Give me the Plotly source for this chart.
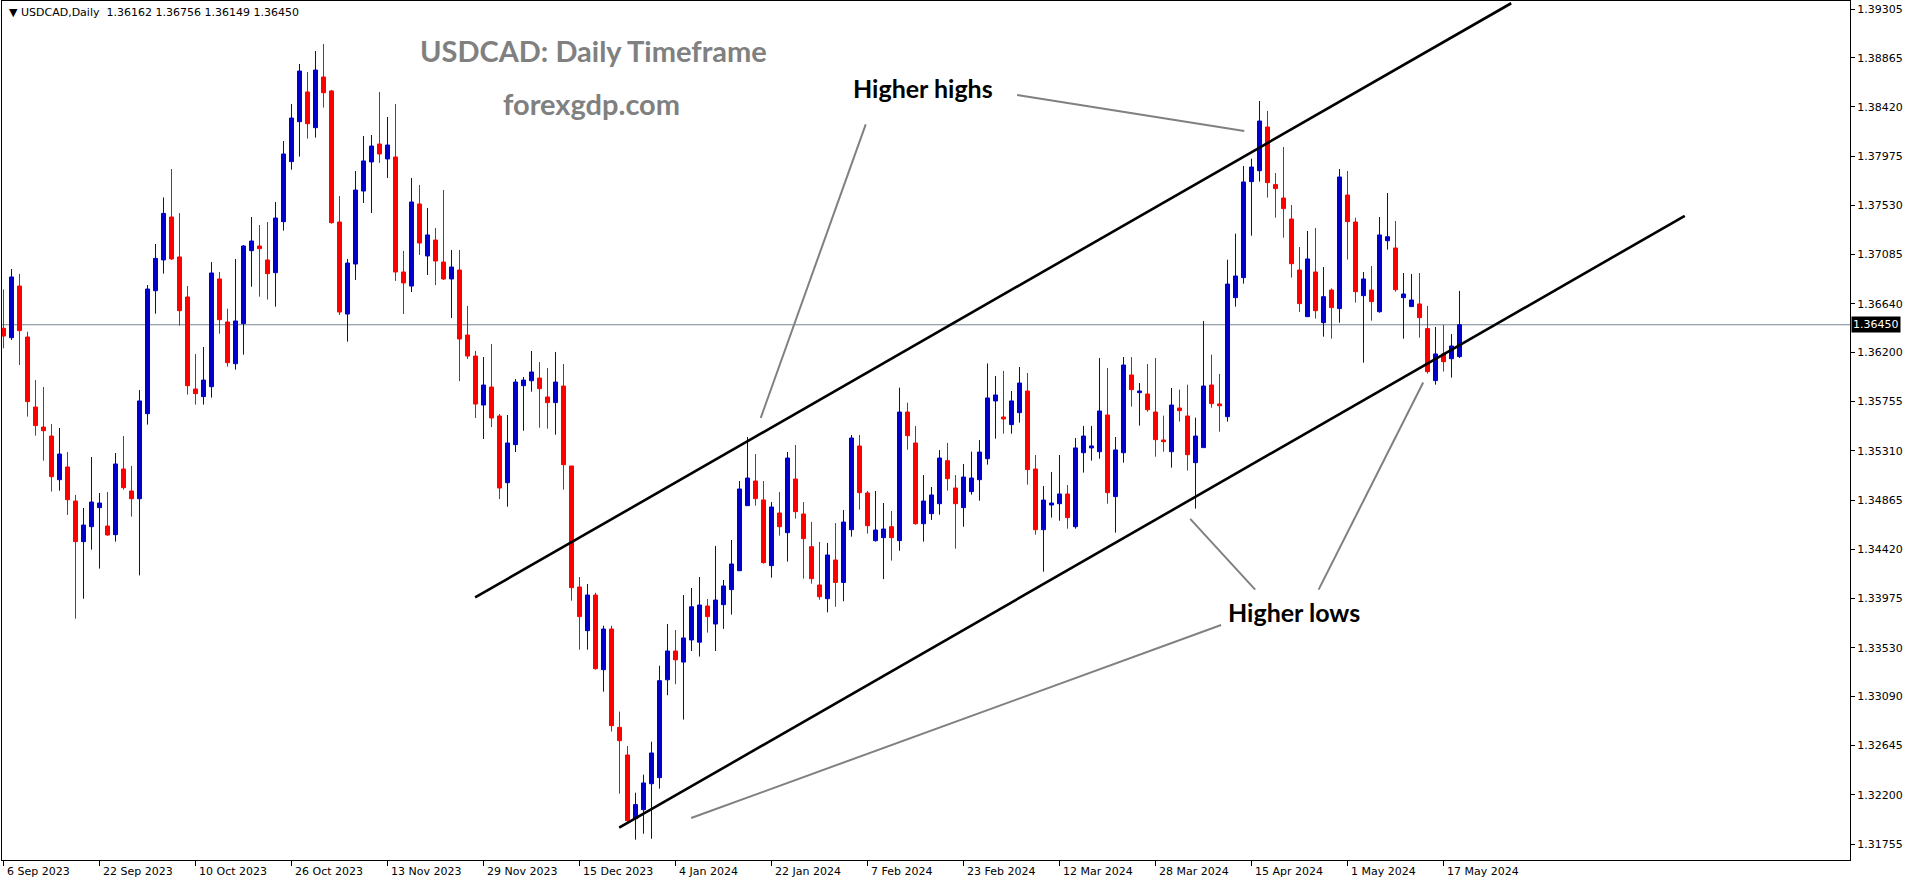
import plotly.graph_objects as go

# ---------------- data ----------------
bar_index = list(range(183))

open_ = [
    1.36418, 1.36333, 1.36800, 1.36339, 1.35706, 1.35525, 1.35444, 1.35049, 1.35164, 1.34856,
    1.34489, 1.34624, 1.34796, 1.34630, 1.34552, 1.35146, 1.34947, 1.34877, 1.35646, 1.36758,
    1.37036, 1.37424, 1.37063, 1.36701, 1.35869, 1.35800, 1.35890, 1.36864, 1.36475, 1.36098,
    1.36460, 1.37120, 1.37162, 1.37036, 1.36921, 1.37382, 1.37925, 1.38286, 1.38555, 1.38232,
    1.38690, 1.38564, 1.37379, 1.36547, 1.36999, 1.37659, 1.37922, 1.38084, 1.37949, 1.37967,
    1.36927, 1.36800, 1.37542, 1.37072, 1.37216, 1.37017, 1.36864, 1.36945, 1.36357, 1.36167,
    1.35724, 1.35887, 1.35625, 1.35022, 1.35366, 1.35899, 1.35944, 1.35968, 1.35797, 1.35746,
    1.35896, 1.35173, 1.34079, 1.33684, 1.34006, 1.33331, 1.33699, 1.32810, 1.32560, 1.31984,
    1.32065, 1.32300, 1.32355, 1.33240, 1.33500, 1.33400, 1.33600, 1.33580, 1.33907, 1.33744,
    1.33919, 1.34055, 1.34226, 1.34814, 1.35037, 1.34866, 1.34272, 1.34748, 1.34570, 1.35055,
    1.34739, 1.34443, 1.34097, 1.33973, 1.34323, 1.34120, 1.34597, 1.35354, 1.34929, 1.34498,
    1.34525, 1.34624, 1.34498, 1.35661, 1.35381, 1.34651, 1.34742, 1.34832, 1.35221, 1.34974,
    1.34796, 1.34941, 1.35049, 1.35239, 1.35761, 1.35616, 1.35547, 1.35655, 1.35851, 1.35146,
    1.34597, 1.34820, 1.34832, 1.34920, 1.34624, 1.35293, 1.35336, 1.35302, 1.35634, 1.34896,
    1.35293, 1.35996, 1.35836, 1.35824, 1.35661, 1.35408, 1.35302, 1.35697, 1.35625, 1.35203,
    1.35339, 1.35905, 1.35734, 1.35619, 1.36695, 1.36876, 1.37744, 1.37843, 1.38238, 1.37717,
    1.37596, 1.37406, 1.36945, 1.36523, 1.36927, 1.36469, 1.36764, 1.36596, 1.37623, 1.37379,
    1.36713, 1.36764, 1.36568, 1.37210, 1.37144, 1.36695, 1.36614, 1.36638, 1.36415, 1.35945,
    1.36186, 1.36143, 1.36162,
]
high = [
    1.36770, 1.36954, 1.36909, 1.36387, 1.35950, 1.35887, 1.35553, 1.35516, 1.35299, 1.34911,
    1.34793, 1.35254, 1.34929, 1.34938, 1.35290, 1.35444, 1.35173, 1.35860, 1.36809, 1.37180,
    1.37600, 1.37858, 1.37460, 1.36800, 1.36185, 1.36249, 1.37017, 1.36927, 1.36595, 1.37045,
    1.37171, 1.37424, 1.37352, 1.37379, 1.37560, 1.38111, 1.38446, 1.38808, 1.38735, 1.38925,
    1.38989, 1.38573, 1.37614, 1.37045, 1.37840, 1.38157, 1.38166, 1.38555, 1.38329, 1.38446,
    1.37117, 1.37777, 1.37714, 1.37506, 1.37325, 1.37668, 1.37126, 1.37126, 1.36620, 1.36213,
    1.36158, 1.36276, 1.35643, 1.35634, 1.35959, 1.35978, 1.36213, 1.36113, 1.36059, 1.36204,
    1.36095, 1.35173, 1.34169, 1.34106, 1.34027, 1.33729, 1.33729, 1.32952, 1.32641, 1.32219,
    1.32382, 1.32680, 1.33367, 1.33744, 1.33690, 1.34006, 1.34070, 1.34169, 1.33970, 1.34450,
    1.34142, 1.34504, 1.35037, 1.35435, 1.35281, 1.35037, 1.34847, 1.34938, 1.35299, 1.35363,
    1.34847, 1.34667, 1.34486, 1.34477, 1.34657, 1.34775, 1.35453, 1.35453, 1.34947, 1.34947,
    1.34838, 1.34766, 1.35881, 1.35745, 1.35534, 1.35091, 1.34983, 1.35317, 1.35381, 1.35091,
    1.35191, 1.35302, 1.35408, 1.36100, 1.35987, 1.36032, 1.35851, 1.36068, 1.36014, 1.35272,
    1.34992, 1.35119, 1.35272, 1.35001, 1.35426, 1.35535, 1.35535, 1.36149, 1.36059, 1.35435,
    1.36158, 1.36158, 1.35923, 1.36095, 1.36149, 1.35628, 1.35878, 1.35863, 1.35908, 1.35610,
    1.36484, 1.36180, 1.36005, 1.37038, 1.37274, 1.37885, 1.37952, 1.38473, 1.38383, 1.37822,
    1.38057, 1.37533, 1.37153, 1.37298, 1.37325, 1.36972, 1.36779, 1.37858, 1.37840, 1.37418,
    1.36927, 1.36981, 1.37424, 1.37641, 1.37388, 1.36918, 1.36909, 1.36918, 1.36620, 1.36430,
    1.36448, 1.36366, 1.36756,
]
low = [
    1.36237, 1.36312, 1.36086, 1.35619, 1.35447, 1.35221, 1.34941, 1.34950, 1.34730, 1.33792,
    1.33973, 1.34416, 1.34245, 1.34543, 1.34489, 1.34959, 1.34715, 1.34184, 1.35547, 1.36550,
    1.36912, 1.37036, 1.36442, 1.35818, 1.35728, 1.35728, 1.35791, 1.36369, 1.36071, 1.36044,
    1.36180, 1.36794, 1.36704, 1.36677, 1.36614, 1.37301, 1.37852, 1.37970, 1.38133, 1.38142,
    1.38413, 1.37364, 1.36538, 1.36297, 1.36855, 1.37551, 1.37460, 1.37913, 1.37777, 1.36846,
    1.36547, 1.36746, 1.37081, 1.36900, 1.36809, 1.36855, 1.36511, 1.35941, 1.36140, 1.35607,
    1.35417, 1.35525, 1.34874, 1.34805, 1.35299, 1.35492, 1.35845, 1.35519, 1.35510, 1.35456,
    1.34959, 1.33955, 1.33512, 1.33512, 1.33331, 1.33132, 1.32771, 1.32210, 1.31957, 1.31794,
    1.31848, 1.31803, 1.32255, 1.33100, 1.33200, 1.32880, 1.33500, 1.33450, 1.33666, 1.33500,
    1.33700, 1.33829, 1.34226, 1.34814, 1.34814, 1.34290, 1.34163, 1.34543, 1.34308, 1.34697,
    1.34154, 1.34109, 1.33964, 1.33850, 1.33900, 1.33950, 1.34534, 1.34778, 1.34561, 1.34489,
    1.34150, 1.34317, 1.34407, 1.35320, 1.34642, 1.34489, 1.34685, 1.34733, 1.34950, 1.34425,
    1.34624, 1.34914, 1.34859, 1.35185, 1.35420, 1.35465, 1.35465, 1.35565, 1.35004, 1.34552,
    1.34217, 1.34706, 1.34678, 1.34606, 1.34606, 1.35113, 1.35221, 1.35239, 1.34832, 1.34570,
    1.35203, 1.35709, 1.35538, 1.35664, 1.35257, 1.35302, 1.35158, 1.35574, 1.35131, 1.34787,
    1.35339, 1.35700, 1.35483, 1.35574, 1.36614, 1.36822, 1.37255, 1.37744, 1.37599, 1.37418,
    1.37237, 1.36876, 1.36565, 1.36523, 1.36505, 1.36342, 1.36324, 1.36469, 1.37039, 1.36650,
    1.36107, 1.36487, 1.36559, 1.37129, 1.36749, 1.36324, 1.36614, 1.36333, 1.36008, 1.35908,
    1.36026, 1.35972, 1.36149,
]
close = [
    1.36348, 1.36882, 1.36397, 1.35755, 1.35538, 1.35492, 1.35076, 1.35281, 1.34868, 1.34489,
    1.34639, 1.34847, 1.34838, 1.34549, 1.35191, 1.34977, 1.34877, 1.35761, 1.36773, 1.37050,
    1.37457, 1.37045, 1.36577, 1.35899, 1.35827, 1.35950, 1.36918, 1.36496, 1.36107, 1.36484,
    1.37162, 1.37207, 1.37138, 1.36912, 1.37415, 1.37994, 1.38319, 1.38744, 1.38268, 1.38753,
    1.38548, 1.37373, 1.36565, 1.37008, 1.37668, 1.37931, 1.38066, 1.37994, 1.38075, 1.36927,
    1.36828, 1.37560, 1.37189, 1.37262, 1.37026, 1.36864, 1.36972, 1.36321, 1.36167, 1.35733,
    1.35905, 1.35607, 1.34974, 1.35381, 1.35932, 1.35950, 1.36023, 1.35872, 1.35746, 1.35932,
    1.35185, 1.34073, 1.33811, 1.34006, 1.33340, 1.33699, 1.32825, 1.32689, 1.31966, 1.32111,
    1.32307, 1.32578, 1.33232, 1.33500, 1.33420, 1.33618, 1.33900, 1.33916, 1.33811, 1.33961,
    1.34088, 1.34287, 1.34965, 1.35064, 1.34878, 1.34299, 1.34802, 1.34624, 1.35245, 1.34760,
    1.34516, 1.34154, 1.33991, 1.34368, 1.34120, 1.34666, 1.35426, 1.34932, 1.34633, 1.34594,
    1.34603, 1.34525, 1.35661, 1.35447, 1.34651, 1.34856, 1.34911, 1.35245, 1.35058, 1.34832,
    1.35073, 1.35064, 1.35299, 1.35788, 1.35815, 1.35598, 1.35761, 1.35923, 1.35140, 1.34597,
    1.34865, 1.34838, 1.34920, 1.34706, 1.35336, 1.35444, 1.35354, 1.35670, 1.34932, 1.35318,
    1.36086, 1.35863, 1.35851, 1.35682, 1.35411, 1.35393, 1.35724, 1.35673, 1.35275, 1.35444,
    1.35896, 1.35737, 1.35718, 1.36818, 1.36891, 1.37741, 1.37876, 1.38292, 1.37735, 1.37681,
    1.37500, 1.37002, 1.36641, 1.37045, 1.36577, 1.36704, 1.36605, 1.37786, 1.37382, 1.36749,
    1.36864, 1.36659, 1.37262, 1.37246, 1.36767, 1.36728, 1.36674, 1.36514, 1.36026, 1.36186,
    1.36116, 1.36258, 1.36450,
]

date_tick_bars = [0, 12, 24, 36, 48, 60, 72, 84, 96, 108, 120, 132, 144, 156, 168, 180]
date_tick_labels = ["6 Sep 2023", "22 Sep 2023", "10 Oct 2023", "26 Oct 2023", "13 Nov 2023",
                    "29 Nov 2023", "15 Dec 2023", "4 Jan 2024", "22 Jan 2024", "7 Feb 2024",
                    "23 Feb 2024", "12 Mar 2024", "28 Mar 2024", "15 Apr 2024", "1 May 2024",
                    "17 May 2024"]

price_ticks = [1.39305, 1.38865, 1.38420, 1.37975, 1.37530, 1.37085, 1.36640, 1.36200,
               1.35755, 1.35310, 1.34865, 1.34420, 1.33975, 1.33530, 1.33090, 1.32645,
               1.32200, 1.31755]
current_price = 1.36450

# channel lines (bar index, price)
upper_channel_x = [58.95, 188.46]
upper_channel_y = [1.33984, 1.39357]
lower_channel_x = [76.96, 210.16]
lower_channel_y = [1.31902, 1.37435]

# grey pointer lines (bar index, price)
pointer_lines = [
    ([126.7, 155.1], [1.38527, 1.38202]),
    ([107.78, 94.65], [1.38261, 1.35607]),
    ([152.2, 85.96], [1.33735, 1.31990]),
    ([156.46, 148.34], [1.34055, 1.34695]),
    ([164.39, 177.46], [1.34055, 1.35928]),
]
label_higher_highs = (114.97, 1.38591)
label_higher_lows = (161.34, 1.33856)

# ---------------- figure ----------------
W, H = 1914, 884
ML, MR, MT, MB = 2, 64, 1, 24
PW, PH = W - ML - MR, H - MT - MB
BAR_PX = 8.0
x0 = -(3.5 - ML) / BAR_PX
x_range = [x0, x0 + PW / BAR_PX]
y_range = [1.316103, 1.393773]

BLUE = "#0000CD"
RED = "#FF0000"

fig = go.Figure()
fig.add_trace(go.Candlestick(
    x=bar_index, open=open_, high=high, low=low, close=close,
    increasing=dict(line=dict(color=BLUE, width=1), fillcolor=BLUE),
    decreasing=dict(line=dict(color=RED, width=1), fillcolor=RED),
    whiskerwidth=0, hoverinfo="skip", showlegend=False,
))

for xs, ys in [(upper_channel_x, upper_channel_y), (lower_channel_x, lower_channel_y)]:
    fig.add_trace(go.Scatter(x=xs, y=ys, mode="lines",
                             line=dict(color="black", width=2.6),
                             hoverinfo="skip", showlegend=False))
for xs, ys in pointer_lines:
    fig.add_trace(go.Scatter(x=xs, y=ys, mode="lines",
                             line=dict(color="#808080", width=2),
                             hoverinfo="skip", showlegend=False))

fig.add_shape(type="line", xref="paper", yref="y", x0=0, x1=1,
              y0=current_price, y1=current_price,
              line=dict(color="#778899", width=1), layer="below")


def py(pix):
    return 1 - (pix - MT) / PH


def px(pix):
    return (pix - ML) / PW


annotations = []
for b, lab in zip(date_tick_bars, date_tick_labels):
    annotations.append(dict(x=b, xref="x", y=py(871), yref="paper", text=lab,
                            showarrow=False, xanchor="left", yanchor="middle", xshift=1,
                            font=dict(family="DejaVu Sans", size=11, color="black")))

annotations.append(dict(x=1, xref="paper", y=current_price, yref="y",
                        text="1.36450", showarrow=False, xanchor="left", yanchor="middle",
                        xshift=1, bgcolor="black", borderpad=1,
                        font=dict(family="DejaVu Sans", size=11, color="white")))

header = "\u25BC USDCAD,Daily\u00a0\u00a0{:.5f} {:.5f} {:.5f} {:.5f}".format(
    open_[-1], high[-1], low[-1], close[-1])
annotations.append(dict(x=px(7), xref="paper", y=py(12.5), yref="paper", text=header,
                        showarrow=False, xanchor="left", yanchor="middle",
                        font=dict(family="DejaVu Sans", size=11, color="black")))

annotations.append(dict(x=px(593), xref="paper", y=py(51), yref="paper",
                        text="<b>USDCAD: Daily Timeframe</b>", showarrow=False,
                        xanchor="center", yanchor="middle",
                        font=dict(family="Lato", size=29, color="#808080")))
annotations.append(dict(x=px(591), xref="paper", y=py(104), yref="paper",
                        text="<b>forexgdp.com</b>", showarrow=False,
                        xanchor="center", yanchor="middle",
                        font=dict(family="Lato", size=29, color="#808080")))

annotations.append(dict(x=label_higher_highs[0], y=label_higher_highs[1], xref="x", yref="y",
                        text="<b>Higher highs</b>", showarrow=False,
                        font=dict(family="Lato", size=25, color="black")))
annotations.append(dict(x=label_higher_lows[0], y=label_higher_lows[1], xref="x", yref="y",
                        text="<b>Higher lows</b>", showarrow=False,
                        font=dict(family="Lato", size=25, color="black")))

fig.update_layout(
    width=W, height=H,
    margin=dict(l=ML, r=MR, t=MT, b=MB, autoexpand=False),
    paper_bgcolor="white", plot_bgcolor="white",
    showlegend=False,
    boxgap=0.5, boxgroupgap=0,
    font=dict(family="DejaVu Sans", size=11, color="black"),
    annotations=annotations,
    xaxis=dict(range=x_range, showgrid=False, zeroline=False,
               showline=True, mirror=True, linecolor="black", linewidth=1,
               ticks="outside", ticklen=5, tickcolor="black", tickwidth=1,
               tickvals=date_tick_bars, showticklabels=False,
               rangeslider=dict(visible=False), fixedrange=True),
    yaxis=dict(range=y_range, side="right", showgrid=False, zeroline=False,
               showline=True, mirror=True, linecolor="black", linewidth=1,
               ticks="outside", ticklen=4, tickcolor="black", tickwidth=1,
               tickvals=price_ticks, tickformat=".5f",
               tickfont=dict(family="DejaVu Sans", size=11, color="black"),
               fixedrange=True),
)

fig.write_html("out.html")
